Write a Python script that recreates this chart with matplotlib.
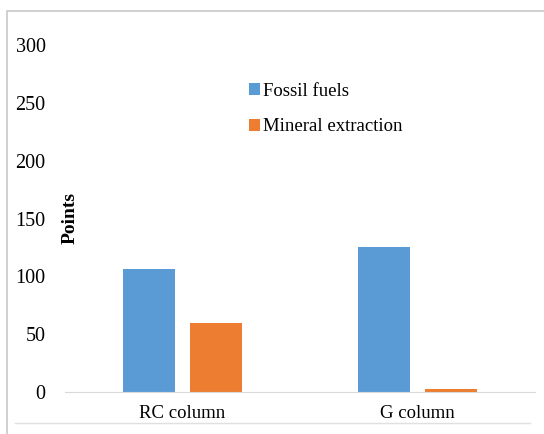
import matplotlib.pyplot as plt
import numpy as np
from matplotlib.patches import Rectangle

categories = ['RC column', 'G column']
fossil_fuels = [106, 125]
mineral_extraction = [60, 2.5]
y_ticks = [0, 50, 100, 150, 200, 250, 300]

plt.rcParams['font.family'] = ['Liberation Serif', 'DejaVu Serif']

fig = plt.figure(figsize=(5.44, 4.34), dpi=100)
# chart frame like the office export
fig.patches.append(Rectangle((7 / 544, -0.1), 1.2, 1 - 11 / 434 + 0.1, transform=fig.transFigure,
                             fill=False, edgecolor='#c8c8c8', linewidth=1.2))
fig.lines.append(plt.Line2D([15 / 544, 530 / 544], [1 - 423 / 434] * 2, transform=fig.transFigure,
                            color='#e0e0e0', linewidth=1))

ax = fig.add_axes([65 / 544, 1 - 392 / 434, 470 / 544, 347 / 434])

x = np.arange(len(categories))
w = 0.22
off = 0.143
ax.bar(x - off, fossil_fuels, w, color='#5b9bd5', label='Fossil fuels')
ax.bar(x + off, mineral_extraction, w, color='#ed7d31', label='Mineral extraction')

ax.set_xlim(-0.5, 1.5)
ax.set_ylim(0, 300)
ax.set_yticks(y_ticks)
ax.set_xticks(x)
ax.set_xticklabels(categories, fontsize=13.5)
ax.tick_params(axis='y', labelsize=14.5, length=0, pad=14)
ax.tick_params(axis='x', length=0, pad=9)
for s in ['top', 'right', 'left']:
    ax.spines[s].set_visible(False)
ax.spines['bottom'].set_color('#d9d9d9')
ax.patch.set_alpha(0)

ax.set_ylabel('Points', fontsize=14, fontweight='bold')
ax.yaxis.set_label_coords(0.03, 0.5)

ax.legend(loc='upper left', bbox_to_anchor=(0.355, 0.94), frameon=False, fontsize=13.5,
          handlelength=0.6, handleheight=0.6, handletextpad=0.15, labelspacing=1.0)

fig.savefig('out.png', dpi=100)
